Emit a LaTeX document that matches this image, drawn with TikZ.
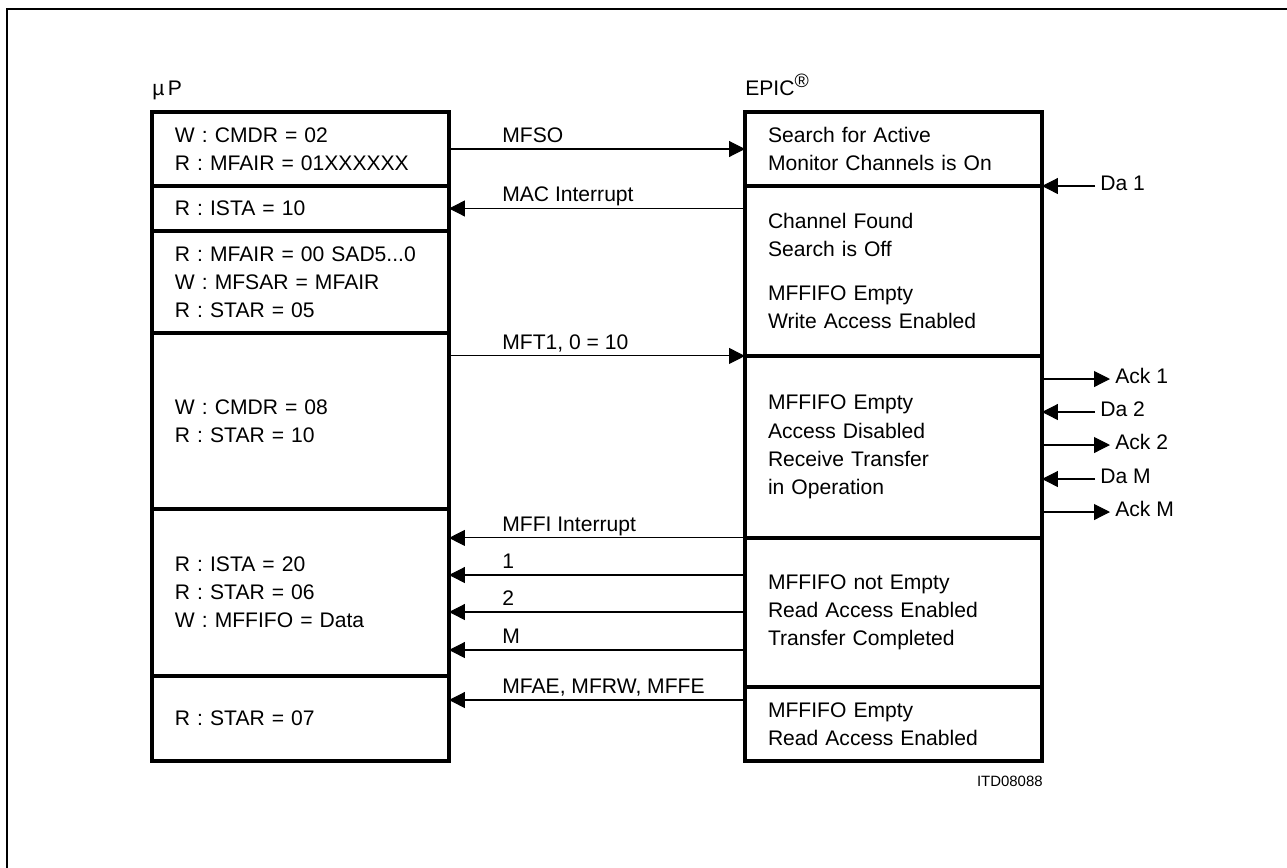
\documentclass[tikz,border=0pt]{standalone}
\usepackage{fontspec}
\setmainfont{Liberation Sans}
\usetikzlibrary{arrows.meta, positioning}

\tikzset{
  cell/.style={draw, line width=1.9pt, outer sep=0pt, inner xsep=0.46cm,
    inner ysep=0pt, text width=5.02cm, align=left,
    font=\fontsize{12}{16}\selectfont},
  sig/.style={line width=0.6pt, -{Triangle[length=9pt, width=9pt]}},
  lbl/.style={font=\fontsize{12}{16}\selectfont, inner sep=0pt, anchor=base west},
}

\begin{document}
\begin{tikzpicture}[x=0.02cm, y=-0.02cm]
  \useasboundingbox (0,0) rectangle (1287,867);
  % Outer frame (runs off the page)
  \draw[line width=1.2pt] (1300,9) -- (7,9) -- (7,880);
  % Column headings
  \node[lbl] (up) at (152,95) {µ\,P};
  \node[lbl] (epic) at (745,95)
    {EPIC\textsuperscript{\fontsize{11}{11}\selectfont\textregistered}};
  % Microprocessor side
  \node[cell, minimum height=1.48cm, anchor=north west] (l1) at (152,112)
    {W : CMDR = 02\\R : MFAIR = 01XXXXXX};
  \node[cell, minimum height=0.9cm, below=0pt of l1] (l2) {R : ISTA = 10};
  \node[cell, minimum height=2.04cm, below=0pt of l2] (l3)
    {R : MFAIR = 00 SAD5...0\\W : MFSAR = MFAIR\\R : STAR = 05};
  \node[cell, minimum height=3.52cm, below=0pt of l3] (l4)
    {W : CMDR = 08\\R : STAR = 10};
  \node[cell, minimum height=3.34cm, below=0pt of l4] (l5)
    {R : ISTA = 20\\R : STAR = 06\\W : MFFIFO = Data};
  \node[cell, minimum height=1.7cm, below=0pt of l5] (l6) {R : STAR = 07};
  % EPIC side
  \node[cell, minimum height=1.48cm, anchor=north west] (r1) at (745,112)
    {Search for Active\\Monitor Channels is On};
  \node[cell, minimum height=3.4cm, below=0pt of r1] (r2)
    {Channel Found\\Search is Off\\[9pt]MFFIFO Empty\\Write Access Enabled};
  \node[cell, minimum height=3.64cm, below=0pt of r2] (r3)
    {MFFIFO Empty\\Access Disabled\\Receive Transfer\\in Operation};
  \node[cell, minimum height=2.98cm, below=0pt of r3] (r4)
    {MFFIFO not Empty\\Read Access Enabled\\Transfer Completed};
  \node[cell, minimum height=1.48cm, below=0pt of r4] (r5)
    {MFFIFO Empty\\Read Access Enabled};
  % Messages between the two
  \draw[sig] (l1.east) -- (r1.west);
  \node[lbl] (m1) at (502,142) {MFSO};
  \draw[sig] (r2.west |- l2.east) -- (l2.east);
  \node[lbl] (m2) at (502,201) {MAC Interrupt};
  \draw[sig] (l4.east |- r3.north) -- (r3.north west);
  \node[lbl] (m3) at (502,349) {MFT1, 0 = 10};
  \draw[sig] (r4.north west) -- (l5.east |- r4.north);
  \node[lbl] (m4) at (502,531) {MFFI Interrupt};
  \foreach \y/\t in {575/1, 612/2, 650/M} {
    \coordinate (f\t) at (0,\y);
    \draw[sig] (r4.west |- f\t) -- (l5.east |- f\t);
    \node[lbl] (n\t) at (502,\y-7) {\t};
  }
  \coordinate (fe) at (0,700);
  \draw[sig] (r5.west |- fe) -- (l6.east |- fe);
  \node[lbl] (m5) at (502,693) {MFAE, MFRW, MFFE};
  % Handshake lines on the right
  \coordinate (da1) at (1095,186);
  \draw[sig] (da1) -- (da1 -| r1.east);
  \node[lbl, anchor=mid west] (tda1) at (1100,186) {Da 1};
  \foreach \y/\t in {379/Ack 1, 445/Ack 2, 512/Ack M} {
    \coordinate (ack\y) at (1110,\y);
    \draw[sig] (r3.east |- ack\y) -- (ack\y);
    \node[lbl, anchor=mid west] (t\y) at (1115,\y) {\t};
  }
  \foreach \y/\t in {412/Da 2, 479/Da M} {
    \coordinate (da\y) at (1095,\y);
    \draw[sig] (da\y) -- (r3.east |- da\y);
    \node[lbl, anchor=mid west] (t\y) at (1100,\y) {\t};
  }
  \node[font=\fontsize{8.5}{10}\selectfont, inner sep=0pt, anchor=base east]
    (itd) at (1043,786) {ITD08088};
\end{tikzpicture}
\end{document}
